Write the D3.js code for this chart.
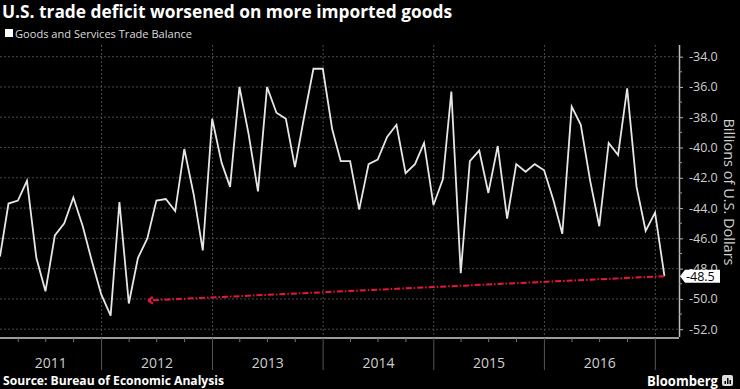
<!doctype html>
<html>
<head>
<meta charset="utf-8">
<script src="https://cdn.jsdelivr.net/npm/d3@7/dist/d3.min.js"></script>
<style>
  html, body { margin: 0; padding: 0; background: #000; }
  svg { display: block; }
  text { font-family: "Open Sans", "Noto Sans", sans-serif; }
</style>
</head>
<body>
<div id="chart"></div>
<script>
// monthly goods and services trade balance, Jan 2011 .. Jan 2017 (billions of USD)
const startYear = 2011;
const balance = [
  -47.2, -43.7, -43.5, -42.2, -47.3, -49.5, -45.8, -45.0, -43.3, -45.2, -47.5, -49.7,
  -51.1, -43.6, -50.3, -47.3, -46.0, -43.5, -43.4, -44.2, -40.1, -43.1, -46.8, -38.1,
  -41.0, -42.6, -36.0, -39.1, -42.9, -36.0, -37.7, -38.1, -41.3, -37.9, -34.8, -34.8,
  -38.8, -40.9, -40.9, -44.1, -41.1, -40.8, -39.3, -38.5, -41.7, -41.1, -39.7, -43.8,
  -42.1, -36.3, -48.3, -40.9, -40.2, -43.0, -39.9, -44.7, -41.1, -41.6, -41.1, -41.5,
  -43.5, -45.7, -37.3, -38.5, -42.2, -45.2, -39.7, -40.5, -36.1, -42.6, -45.5, -44.3,
  -48.5
];
const yTicks = [-34, -36, -38, -40, -42, -44, -46, -48, -50, -52];
const yMinorTicks = [-35, -37, -39, -41, -43, -45, -47, -49, -51];
const years = [2011, 2012, 2013, 2014, 2015, 2016, 2017];
// annotation: arrow from the latest reading back to the 2012 low
const arrowEnd = { date: new Date(2012, 5, 2), value: -50.1 };

const width = 740, height = 389;
const plot = { left: 0, right: 679, top: 45, bottom: 338 };

const data = balance.map(function (v, i) {
  return { date: new Date(startYear, i + 1, 0), value: v };   // month-end dates
});

const x = d3.scaleTime()
  .domain([new Date(2011, 0, 31), new Date(2017, 2, 20)])
  .range([plot.left, plot.right]);
const y = d3.scaleLinear()
  .domain([-52.58, -33.23])
  .range([plot.bottom, plot.top]);

const svg = d3.select("#chart").append("svg")
  .attr("width", width)
  .attr("height", height);

svg.append("rect").attr("width", width).attr("height", height).attr("fill", "#000");

// title & legend
svg.append("text")
  .attr("x", 2).attr("y", 18)
  .attr("fill", "#fff")
  .attr("font-weight", "bold")
  .attr("font-size", 18)
  .attr("textLength", 450).attr("lengthAdjust", "spacingAndGlyphs")
  .text("U.S. trade deficit worsened on more imported goods");

svg.append("rect").attr("x", 5).attr("y", 29).attr("width", 8).attr("height", 8).attr("fill", "#fff");
svg.append("text")
  .attr("x", 15).attr("y", 37.5)
  .attr("fill", "#ddd")
  .attr("font-size", 11.5)
  .attr("textLength", 177).attr("lengthAdjust", "spacingAndGlyphs")
  .text("Goods and Services Trade Balance");

// gridlines
const yearStarts = years.filter(function (yr) { return yr > startYear; })
  .map(function (yr) { return new Date(yr, 0, 1); });

svg.append("g").selectAll("line").data(yTicks).join("line")
  .attr("x1", plot.left).attr("x2", plot.right)
  .attr("y1", function (d) { return y(d); }).attr("y2", function (d) { return y(d); })
  .attr("stroke", "#4a4a4a").attr("stroke-dasharray", "2,2");

svg.append("g").selectAll("line").data(yearStarts).join("line")
  .attr("x1", function (d) { return x(d); }).attr("x2", function (d) { return x(d); })
  .attr("y1", plot.top).attr("y2", plot.bottom)
  .attr("stroke", "#4a4a4a").attr("stroke-dasharray", "2,2");

// x axis: line, year separators, quarter ticks, year labels
svg.append("line")
  .attr("x1", plot.left).attr("x2", plot.right)
  .attr("y1", plot.bottom).attr("y2", plot.bottom)
  .attr("stroke", "#9a9a9a").attr("stroke-width", 2);

svg.append("g").selectAll("line").data(yearStarts).join("line")
  .attr("x1", function (d) { return x(d); }).attr("x2", function (d) { return x(d); })
  .attr("y1", plot.bottom).attr("y2", 370)
  .attr("stroke", "#555");

const quarters = d3.timeMonth.every(3).range(new Date(2011, 0, 1), new Date(2017, 3, 1))
  .filter(function (d) { return d.getMonth() !== 0 && x(d) > plot.left && x(d) < plot.right; });
svg.append("g").selectAll("line").data(quarters).join("line")
  .attr("x1", function (d) { return x(d); }).attr("x2", function (d) { return x(d); })
  .attr("y1", plot.bottom).attr("y2", plot.bottom + 4)
  .attr("stroke", "#777");

svg.append("g").selectAll("text").data(years).join("text")
  .attr("x", function (yr) {
    const a = Math.max(plot.left, x(new Date(yr, 0, 1)));
    const b = Math.min(plot.right, x(new Date(yr + 1, 0, 1)));
    return (a + b) / 2;
  })
  .attr("y", 368)
  .attr("text-anchor", "middle")
  .attr("fill", "#cfcfcf")
  .attr("font-size", 14)
  .text(function (yr) {
    const a = Math.max(plot.left, x(new Date(yr, 0, 1)));
    const b = Math.min(plot.right, x(new Date(yr + 1, 0, 1)));
    return b - a > 50 ? yr : "";
  });

// y axis on the right
const yAxis = svg.append("g")
  .attr("transform", "translate(" + plot.right + ",0)")
  .call(d3.axisRight(y).tickValues(yTicks).tickSize(4).tickPadding(6)
    .tickFormat(function (d) { return d.toFixed(1); }));
yAxis.select(".domain").attr("stroke", "#bbb").attr("stroke-width", 1.5)
  .attr("d", "M0.5," + plot.top + "V" + (plot.bottom - 1));
yAxis.selectAll(".tick line").attr("stroke", "#bbb");
yAxis.selectAll(".tick text").attr("fill", "#cfcfcf").attr("font-size", 12.5)
  .attr("font-family", "'Open Sans', sans-serif");
svg.append("g").selectAll("line").data(yMinorTicks).join("line")
  .attr("x1", plot.right).attr("x2", plot.right + 3)
  .attr("y1", function (d) { return y(d); }).attr("y2", function (d) { return y(d); })
  .attr("stroke", "#999");

svg.append("text")
  .attr("transform", "translate(724," + 192 + ") rotate(90)")
  .attr("text-anchor", "middle")
  .attr("fill", "#cfcfcf")
  .attr("font-size", 14.5)
  .text("Billions of U.S. Dollars");

// the series
const line = d3.line()
  .x(function (d) { return x(d.date); })
  .y(function (d) { return y(d.value); });
svg.append("path")
  .datum(data)
  .attr("d", line)
  .attr("fill", "none")
  .attr("stroke", "#e6e6e6")
  .attr("stroke-width", 1.8)
  .attr("stroke-linejoin", "miter");

// red dash-dot arrow
const last = data[data.length - 1];
const ax0 = x(last.date), ay0 = y(last.value);
const ax1 = x(arrowEnd.date), ay1 = y(arrowEnd.value);
svg.append("line")
  .attr("x1", ax0).attr("y1", ay0).attr("x2", ax1).attr("y2", ay1)
  .attr("stroke", "#e8173a").attr("stroke-width", 2)
  .attr("stroke-dasharray", "6,2,1.5,2");
const ang = Math.atan2(ay0 - ay1, ax0 - ax1);
[0.6, -0.6].forEach(function (da) {
  svg.append("line")
    .attr("x1", ax1).attr("y1", ay1)
    .attr("x2", ax1 + 6 * Math.cos(ang + da)).attr("y2", ay1 + 6 * Math.sin(ang + da))
    .attr("stroke", "#e8173a").attr("stroke-width", 2);
});

// last value label (sits over the -48.0 tick label, as in the original)
const ly = y(last.value);
svg.append("path")
  .attr("d", "M" + (plot.right + 1) + "," + ly + "L" + (plot.right + 6) + "," + (ly - 6.5) +
    "H720V" + (ly + 6.5) + "H" + (plot.right + 6) + "Z")
  .attr("fill", "#fff");
svg.append("text")
  .attr("x", 686).attr("y", ly + 4.5)
  .attr("fill", "#000")
  .attr("font-size", 12.5)
  .text(last.value.toFixed(1));

// footer
svg.append("text")
  .attr("x", 3).attr("y", 385)
  .attr("fill", "#fff")
  .attr("font-weight", "bold")
  .attr("font-size", 12)
  .attr("textLength", 221).attr("lengthAdjust", "spacingAndGlyphs")
  .text("Source: Bureau of Economic Analysis");

svg.append("text")
  .attr("x", 647).attr("y", 386)
  .attr("fill", "#fff")
  .attr("font-weight", "bold")
  .attr("font-size", 14)
  .attr("textLength", 71).attr("lengthAdjust", "spacingAndGlyphs")
  .text("Bloomberg");
const logo = svg.append("g").attr("transform", "translate(722,375)");
logo.append("rect").attr("width", 11).attr("height", 11).attr("rx", 2).attr("fill", "#ddd");
[[2.5, 6, 3], [5, 3, 6], [7.5, 5, 4]].forEach(function (b) {
  logo.append("rect").attr("x", b[0]).attr("y", b[1]).attr("width", 1.5).attr("height", b[2]).attr("fill", "#000");
});
</script>
</body>
</html>
